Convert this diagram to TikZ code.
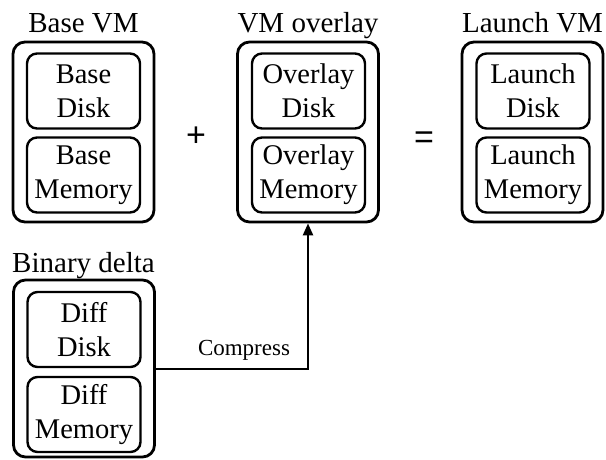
\documentclass[tikz,border=0pt]{standalone}
\usepackage{fontspec}
\setmainfont{Liberation Serif}
\newfontfamily\opfont{Liberation Sans}
\usetikzlibrary{arrows.meta}
\tikzset{
  outerbox/.style={draw, line width=2.8pt, rounded corners=12pt, minimum width=141pt, inner sep=0pt},
  innerbox/.style={draw, line width=2.4pt, rounded corners=10pt, minimum width=113pt, minimum height=75pt, inner sep=0pt, align=center, font=\fontsize{28.5}{34}\selectfont},
  titletext/.style={anchor=base, inner sep=0pt, font=\fontsize{29}{33}\selectfont},
  optext/.style={inner sep=0pt, font=\opfont\fontsize{34}{34}\selectfont},
  conn/.style={line width=2.4pt, -{Triangle[length=12pt,width=10pt]}}
}
\begin{document}
\begin{tikzpicture}[x=1pt,y=-1pt]
\useasboundingbox (0,0) rectangle (606,459);
% Base VM
\node[outerbox, minimum height=180pt] (base) at (83.5,132) {};
\node[innerbox] (basedisk) at (83.5,91) {Base\\Disk};
\node[innerbox] (basemem) at (83.5,175) {Base\\Memory};
\node[titletext] (basetitle) at (83.5,32) {Base VM};
% VM overlay
\node[outerbox, minimum height=180pt] (overlay) at (308,132) {};
\node[innerbox] (ovdisk) at (308.5,91) {Overlay\\Disk};
\node[innerbox] (ovmem) at (308.5,175) {Overlay\\Memory};
\node[titletext] (ovtitle) at (308,32) {VM overlay};
% Launch VM
\node[outerbox, minimum height=180pt] (launch) at (532.5,132) {};
\node[innerbox] (ldisk) at (533,91) {Launch\\Disk};
\node[innerbox] (lmem) at (533,175) {Launch\\Memory};
\node[titletext] (ltitle) at (532.5,32) {Launch VM};
% operators
\node[optext] (plus) at (196,137) {+};
\node[optext] (eq) at (424,140) {=};
% Binary delta
\node[outerbox, minimum height=177pt] (delta) at (84,368.5) {};
\node[innerbox] (ddisk) at (84,329.5) {Diff\\Disk};
\node[innerbox] (dmem) at (84,414.5) {Diff\\Memory};
\node[titletext] (dtitle) at (83.5,272) {Binary delta};
% connector
\coordinate (bend) at (overlay.south |- 0,369);
\draw[conn] (delta.east |- bend) -- (bend) -- (overlay.south);
\node[anchor=base, inner sep=0pt, font=\fontsize{23}{26}\selectfont] (compress) at (244,355) {Compress};
\end{tikzpicture}
\end{document}
